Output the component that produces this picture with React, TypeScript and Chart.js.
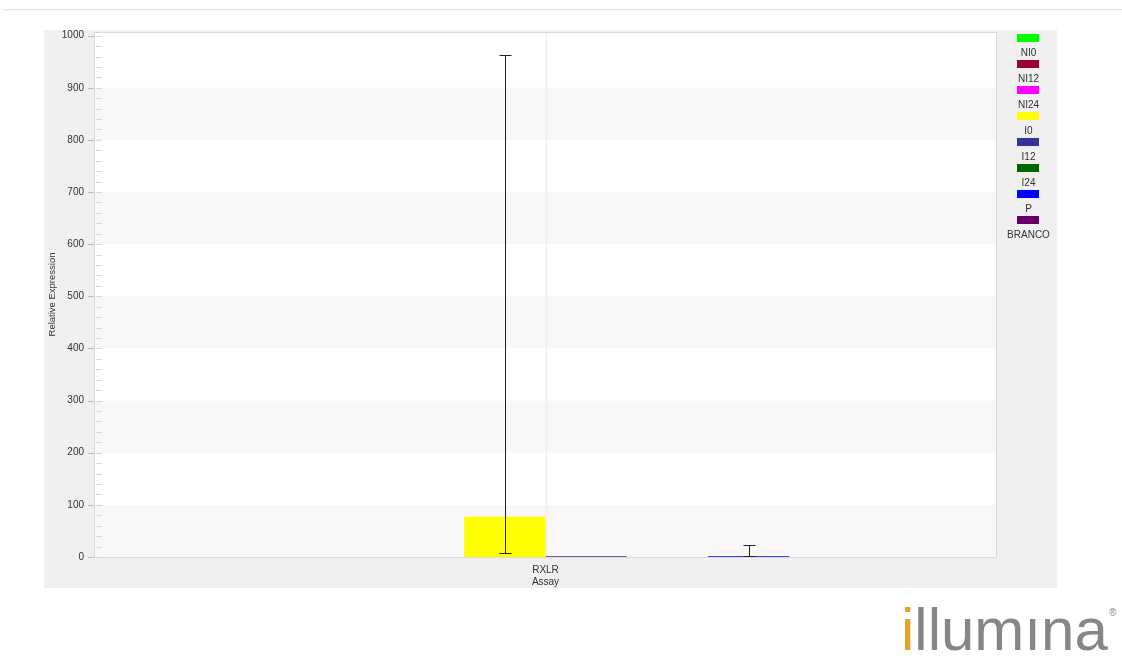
import React, { useEffect, useRef } from "react";
import { Chart, registerables } from "chart.js";

Chart.register(...registerables);

// ---- data ----
const categories = ["RXLR"];
const seriesNames = ["NI0", "NI12", "NI24", "I0", "I12", "I24", "P", "BRANCO"];
const seriesColors = ["#00ff00", "#990033", "#ff00ff", "#ffff00", "#333399", "#006600", "#0000ff", "#660066"];
const seriesValues = [0, 0, 0, 77, 1.4, 0, 1.4, 0];
const errorLow: (number | null)[] = [null, null, null, 8, null, null, 1.5, null];
const errorHigh: (number | null)[] = [null, null, null, 963, null, null, 23, null];
const yTickValues = [0, 100, 200, 300, 400, 500, 600, 700, 800, 900, 1000];
const yTitle = "Relative Expression";
const xTitle = "Assay";

const FONT = "'Liberation Sans', Arial, sans-serif";

const decorPlugin = {
  id: "decor",
  beforeDraw(chart: any) {
    const { ctx, chartArea: a, scales } = chart;
    const y = scales.y;
    ctx.save();
    ctx.fillStyle = "#ffffff";
    ctx.fillRect(a.left, a.top, a.right - a.left, a.bottom - a.top);
    // alternating bands
    for (let i = 0; i < yTickValues.length - 1; i++) {
      if (i % 2 === 0) {
        const y0 = y.getPixelForValue(yTickValues[i]);
        const y1 = y.getPixelForValue(yTickValues[i + 1]);
        ctx.fillStyle = "#f7f7f7";
        ctx.fillRect(a.left, y1, a.right - a.left, y0 - y1);
      }
    }
    // category center line
    const xs = scales.x;
    const cx = Math.round(xs.getPixelForValue(0)) + 0.5;
    ctx.strokeStyle = "#ececec";
    ctx.lineWidth = 1;
    ctx.beginPath();
    ctx.moveTo(cx, a.top);
    ctx.lineTo(cx, a.bottom + 11);
    ctx.stroke();
    // plot border
    ctx.strokeStyle = "#dadada";
    ctx.strokeRect(a.left + 0.5, a.top + 0.5, a.right - a.left - 1, a.bottom - a.top);
    // minor ticks inside
    ctx.strokeStyle = "#d8d8d8";
    for (let v = 0; v <= 1000; v += 20) {
      const py = Math.round(y.getPixelForValue(v)) + 0.5;
      ctx.beginPath();
      ctx.moveTo(a.left + 2, py);
      ctx.lineTo(a.left + 8, py);
      ctx.stroke();
    }
    // major ticks outside
    ctx.strokeStyle = "#bcbcbc";
    yTickValues.forEach((v) => {
      const py = Math.round(y.getPixelForValue(v)) + 0.5;
      ctx.beginPath();
      ctx.moveTo(a.left - 6, py);
      ctx.lineTo(a.left, py);
      ctx.stroke();
    });
    ctx.restore();
  },
  afterDatasetsDraw(chart: any) {
    const { ctx, scales } = chart;
    const y = scales.y;
    ctx.save();
    // error bars
    ctx.strokeStyle = "#222222";
    ctx.lineWidth = 1;
    chart.data.datasets.forEach((ds: any, i: number) => {
      const hi = errorHigh[i];
      const lo = errorLow[i];
      if (hi == null || lo == null) return;
      const bar = chart.getDatasetMeta(i).data[0];
      const x = Math.round(bar.x) + 0.5;
      const yh = Math.round(y.getPixelForValue(hi)) + 0.5;
      const yl = Math.round(y.getPixelForValue(lo)) + 0.5;
      const cap = 6;
      ctx.beginPath();
      ctx.moveTo(x, yh);
      ctx.lineTo(x, yl);
      ctx.moveTo(x - cap, yh);
      ctx.lineTo(x + cap, yh);
      ctx.moveTo(x - cap, yl);
      ctx.lineTo(x + cap, yl);
      ctx.stroke();
    });
    ctx.restore();
  },
  afterDraw(chart: any) {
    const { ctx } = chart;
    ctx.save();
    ctx.font = `10px ${FONT}`;
    ctx.textAlign = "center";
    ctx.textBaseline = "middle";
    chart.data.datasets.forEach((ds: any, i: number) => {
      const top = 4 + 26 * i;
      ctx.fillStyle = ds.backgroundColor;
      ctx.fillRect(973, top, 22, 8);
      ctx.fillStyle = "#333333";
      ctx.fillText(ds.label, 984.5, top + 19);
    });
    ctx.restore();
  },
};

function ChartCanvas() {
  const ref = useRef<HTMLCanvasElement | null>(null);
  useEffect(() => {
    if (!ref.current) return;
    const chart = new Chart(ref.current, {
      type: "bar",
      data: {
        labels: categories,
        datasets: seriesNames.map((name, i) => ({
          label: name,
          data: [seriesValues[i]],
          backgroundColor: seriesColors[i],
          borderWidth: 0,
          categoryPercentage: 0.72,
          barPercentage: 1,
        })),
      },
      options: {
        responsive: false,
        animation: false,
        devicePixelRatio: 1,
        layout: { padding: { left: 0, right: 60, top: 2, bottom: 0 } },
        plugins: {
          legend: { display: false },
          tooltip: { enabled: false },
        },
        scales: {
          x: {
            grid: { display: false, drawTicks: false },
            border: { display: false },
            ticks: { color: "#333333", font: { family: FONT, size: 10 }, padding: 7 },
            title: {
              display: true,
              text: xTitle,
              color: "#333333",
              font: { family: FONT, size: 10 },
              padding: { top: 0, bottom: 0 },
            },
            afterFit: (s: any) => {
              s.height = 31;
              s.paddingLeft = 0;
              s.paddingRight = 0;
            },
          },
          y: {
            min: 0,
            max: 1007,
            grid: { display: false, drawTicks: false },
            border: { display: false },
            ticks: {
              color: "#333333",
              font: { family: FONT, size: 10 },
              padding: 10,
              callback: (v: any) => String(v),
            },
            afterBuildTicks: (s: any) => {
              s.ticks = yTickValues.map((v) => ({ value: v }));
            },
            title: {
              display: true,
              text: yTitle,
              color: "#333333",
              font: { family: FONT, size: 9.5 },
              padding: { top: 3, bottom: 0 },
            },
            afterFit: (s: any) => {
              s.width = 50;
              s.paddingTop = 0;
              s.paddingBottom = 0;
            },
          },
        },
      },
      plugins: [decorPlugin],
    } as any);
    return () => chart.destroy();
  }, []);
  return <canvas ref={ref} width={1013} height={558} style={{ display: "block" }} />;
}

export default function App() {
  return (
    <div style={{ position: "absolute", left: 0, top: 0, width: 1122, height: 666, background: "#ffffff", overflow: "hidden" }}>
      <div style={{ position: "absolute", left: 3, right: 0, top: 9, height: 1, background: "#e2e2e2", boxShadow: "0 1px 2px rgba(0,0,0,0.06)" }} />
      <div style={{ position: "absolute", left: 44, top: 30, width: 1013, height: 558, background: "#efefef" }}>
        <ChartCanvas />
      </div>
      <div
        style={{
          position: "absolute",
          left: 901,
          top: 600,
          fontFamily: FONT,
          fontSize: 60,
          lineHeight: "60px",
          color: "#868686",
          whiteSpace: "nowrap",
        }}
      >
        <span style={{ color: "#e3a52e" }}>i</span>llumına
      </div>
      <div
        style={{
          position: "absolute",
          left: 1109,
          top: 608,
          fontFamily: FONT,
          fontSize: 10,
          lineHeight: "10px",
          color: "#868686",
        }}
      >
        ®
      </div>
    </div>
  );
}
